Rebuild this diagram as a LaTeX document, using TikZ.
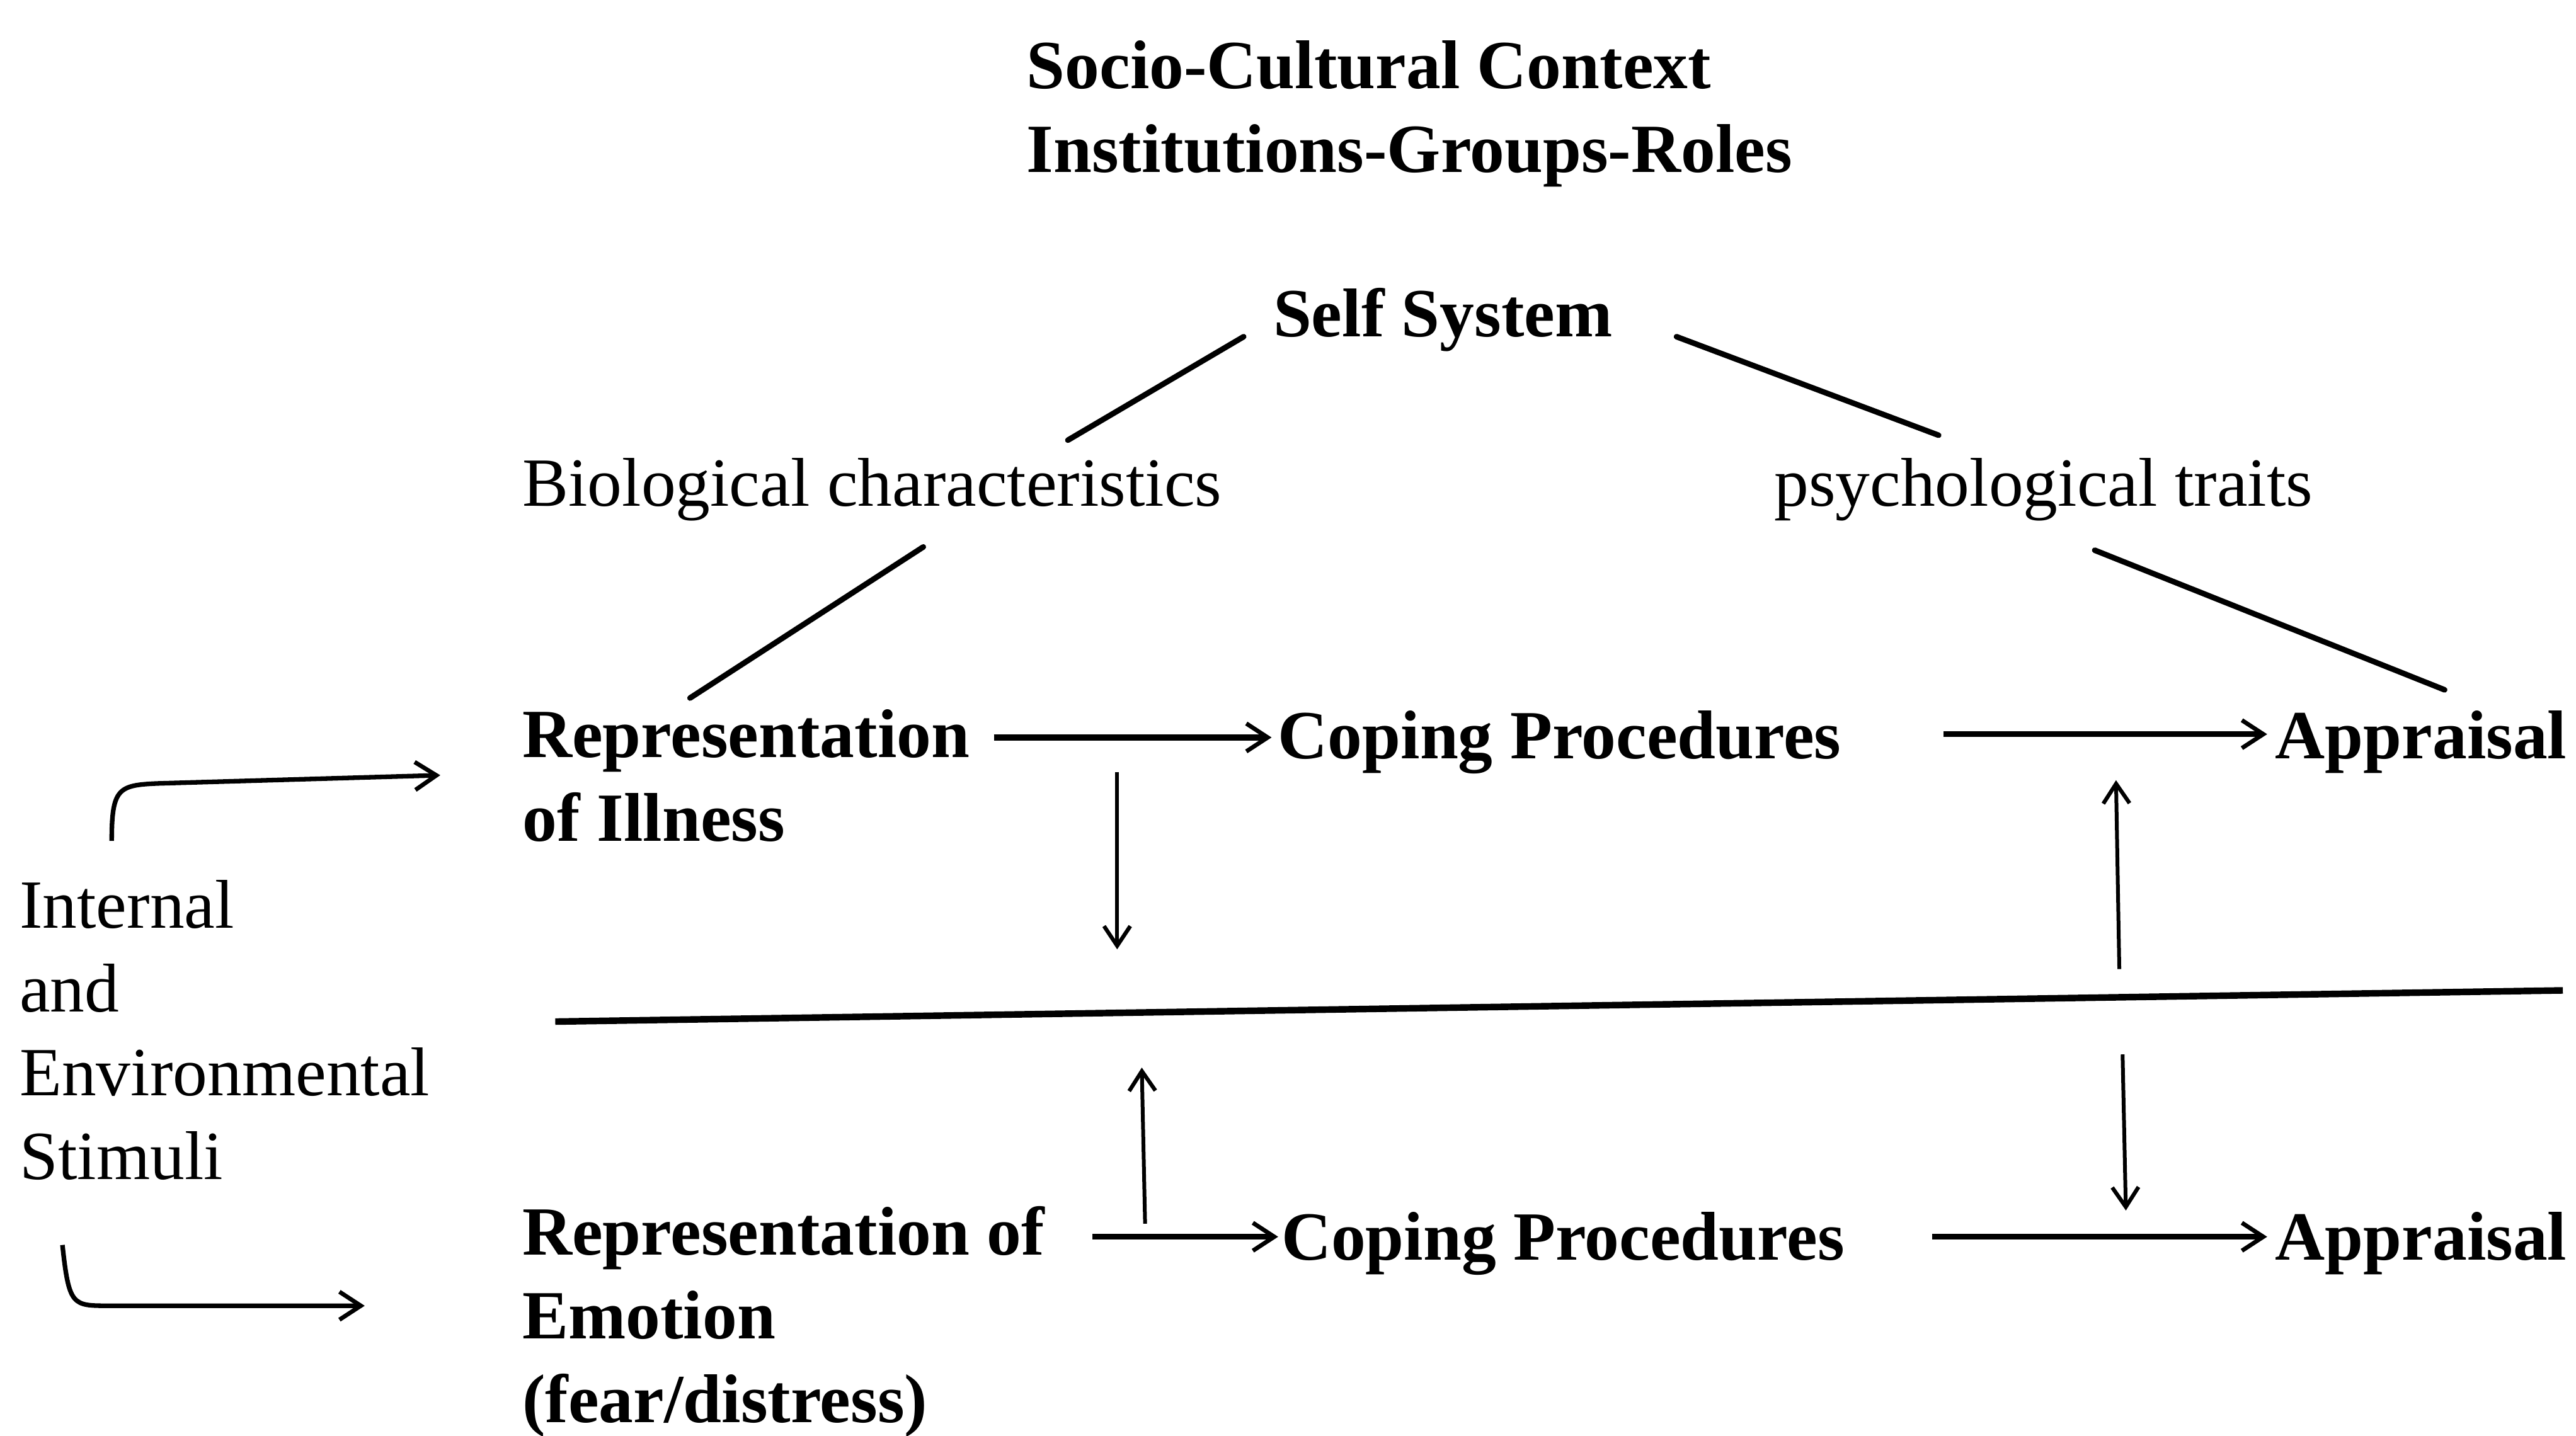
\documentclass[tikz,border=0pt]{standalone}
\usepackage{fontspec}
\setmainfont{Liberation Serif}
\usetikzlibrary{calc,arrows.meta}
\begin{document}
\begin{tikzpicture}[x=1pt,y=-1pt,
  lbl/.style={inner sep=0pt,outer sep=0pt,anchor=base west,align=left,
    font=\fontsize{42}{51}\selectfont},
  blbl/.style={lbl,font=\fontsize{42}{51}\selectfont\bfseries},
  link/.style={line width=3.4pt,line cap=round},
  harrow/.style={line width=3.6pt,-{Straight Barb[length=13pt,width=17pt,line width=2.6pt]}},
  varrow/.style={line width=2.3pt,-{Straight Barb[length=12pt,width=16pt,line width=2.4pt]}},
  divider/.style={line width=4pt}]
\useasboundingbox[fill=white] (0,0) rectangle (1568,874);

% (base anchor = baseline of the last line)
\node[blbl] (socio) at (625,105) {Socio-Cultural Context\\Institutions-Groups-Roles};
\node[blbl] (self) at (775,205) {Self System};
\node[lbl] (bio) at (318,308) {Biological characteristics};
\node[lbl] (psych) at (1080,308) {psychological traits};
\node[blbl] (ill) at (318,512) {Representation\\of Illness};
\node[blbl] (cope1) at (778,462) {Coping Procedures};
\node[blbl] (app1) at (1385,462) {Appraisal};
\node[lbl] (stim) at (12,718) {Internal\\and\\Environmental\\Stimuli};
\node[blbl] (emo) at (318,866) {Representation of\\Emotion\\(fear/distress)};
\node[blbl] (cope2) at (780,767) {Coping Procedures};
\node[blbl] (app2) at (1385,767) {Appraisal};

% divider and free ends
\coordinate (divL) at (338,622);
\coordinate (divR) at (1560,603);
\coordinate (d7) at (680,578);
\coordinate (d8) at (1290,590);
\coordinate (d10) at (695,650);
\coordinate (d11) at (1292,642);
\coordinate (s1) at ($(stim.base west)+(56,-206)$);
\coordinate (s2) at ($(stim.base west)+(26,40)$);

\draw[divider] (divL) -- (divR);

% links
\draw[link] ($(self.base west)+(-18,0)$) -- ($(bio.base west)+(332,-40)$);
\draw[link] ($(self.base east)+(39,0)$) -- ($(psych.base west)+(100,-43)$);
\draw[link] ($(bio.base west)+(244,25)$) -- ($(ill.base west)+(102,-87)$);
\draw[link] ($(psych.base west)+(195,27)$) -- ($(app1.base west)+(103,-42)$);

% horizontal arrows
\draw[harrow] ($(ill.base west)+(287,-63)$) -- ($(cope1.base west)+(-4,-13)$);
\draw[harrow] ($(cope1.base west)+(405,-15)$) -- ($(app1.base west)+(-5,-15)$);
\draw[harrow] ($(emo.base west)+(347,-113)$) -- ($(cope2.base west)+(-2,-14)$);
\draw[harrow] ($(cope2.base west)+(396,-14)$) -- ($(app2.base west)+(-5,-14)$);

% vertical arrows
\draw[varrow] ($(cope1.base west)+(-98,8)$) -- (d7);
\draw[varrow] (d8) -- ($(app1.base west)+(-97,13)$);
\draw[varrow] ($(cope2.base west)+(-83,-22)$) -- (d10);
\draw[varrow] (d11) -- ($(app2.base west)+(-91,-30)$);

% stimulus brackets
\draw[harrow,line width=2.8pt] (s1) .. controls ($(s1)+(0,-32)$) and ($(s1)+(4,-34)$) .. ($(s1)+(28,-35)$) -- ($(ill.base west)+(-50,-40)$);
\draw[harrow,line width=2.8pt] (s2) .. controls ($(s2)+(4,37)$) and ($(s2)+(6,37)$) .. ($(s2)+(28,37)$) -- ($(emo.base west)+(-96,-71)$);
\end{tikzpicture}
\end{document}
